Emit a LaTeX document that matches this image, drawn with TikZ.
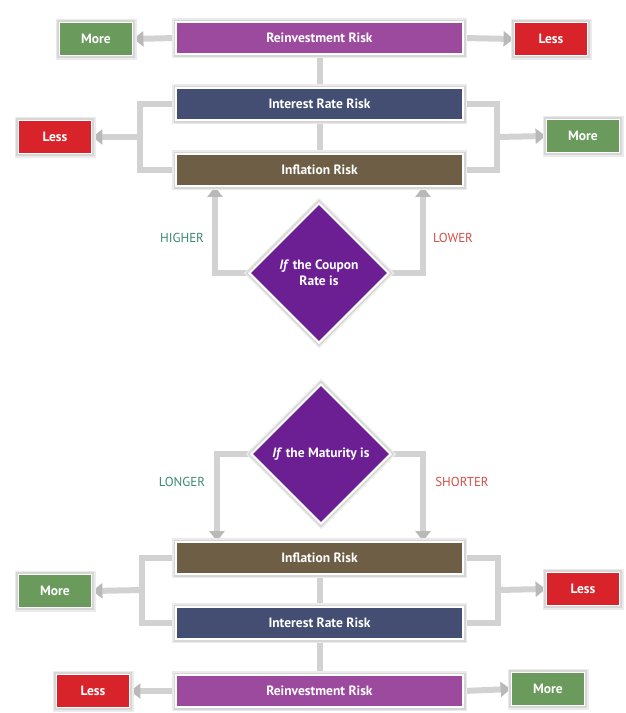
\documentclass[tikz,border=0pt]{standalone}
\usepackage{fontspec}
\setmainfont{PT Sans}
\usetikzlibrary{arrows.meta,shapes.geometric,backgrounds}
\definecolor{reinv}{HTML}{9C4A9E}
\definecolor{intr}{HTML}{434E72}
\definecolor{infl}{HTML}{6E5E45}
\definecolor{grn}{HTML}{6A9A5C}
\definecolor{rd}{HTML}{D8232A}
\definecolor{diam}{HTML}{6B1F93}
\definecolor{hicol}{HTML}{3A8A6B}
\definecolor{locol}{HTML}{D0504A}
\tikzset{
  riskbox/.style={rectangle, minimum width=287pt, minimum height=32pt, inner sep=0pt,
    text=white, font=\bfseries\fontsize{13.5}{15}\selectfont,
    draw=white, line width=1.8pt,
    preaction={draw=black!8, line width=8pt},
    preaction={draw=black!16, line width=5pt}},
  smallbox/.style={riskbox, minimum width=73pt, minimum height=33pt},
  decision/.style={diamond, aspect=1, minimum width=140pt, minimum height=140pt, inner sep=0pt,
    fill=diam, draw=white, line width=2pt,
    preaction={draw=black!8, line width=8pt},
    preaction={draw=black!16, line width=5pt},
    text=white, align=center, font=\bfseries\fontsize{13.5}{16}\selectfont},
  conn/.style={draw=gray!35, line width=6pt},
  arr/.style={conn, -{Triangle[width=15pt,length=10pt,color=gray!55]}},
  lbl/.style={font=\fontsize{13}{15}\selectfont},
}
\begin{document}
\begin{tikzpicture}[x=1pt,y=-1pt]
\useasboundingbox (0,0) rectangle (626,713);
% ---------- top half ----------
\node[riskbox, fill=reinv] (r1) at (319.5,38) {Reinvestment Risk};
\node[riskbox, fill=intr]  (i1) at (319.5,104) {Interest Rate Risk};
\node[riskbox, fill=infl]  (f1) at (319.5,170) {Inflation Risk};
\node[smallbox, fill=grn] (m1) at (96,39) {More};
\node[smallbox, fill=rd]  (l1) at (551,39) {Less};
\node[smallbox, fill=rd]  (l2) at (55,137) {Less};
\node[smallbox, fill=grn] (m2) at (583,136) {More};
\node[decision] (d1) at (319,273) {\textit{If} the Coupon\\Rate is};
\node[lbl, text=hicol] (hi) at (182,238) {HIGHER};
\node[lbl, text=locol] (lo) at (453,238) {LOWER};
\coordinate (bl1) at (140,137);
\coordinate (br1) at (497,137);
\coordinate (ha1) at (215,273);
\coordinate (la1) at (423,273);
% ---------- bottom half ----------
\node[decision] (d2) at (321,454) {\textit{If} the Maturity is};
\node[lbl, text=hicol] (lg) at (182,482) {LONGER};
\node[lbl, text=locol] (sh) at (462,482) {SHORTER};
\node[riskbox, fill=infl]  (f2) at (319.5,558) {Inflation Risk};
\node[riskbox, fill=intr]  (i2) at (319.5,623) {Interest Rate Risk};
\node[riskbox, fill=reinv] (r2) at (319.5,691) {Reinvestment Risk};
\node[smallbox, fill=grn] (m3) at (55,591) {More};
\node[smallbox, fill=rd]  (l3) at (583,589) {Less};
\node[smallbox, fill=rd]  (l4) at (93,691) {Less};
\node[smallbox, fill=grn] (m4) at (548,689) {More};
\coordinate (bl2) at (142,590);
\coordinate (br2) at (498,590);
\coordinate (ha2) at (217,454);
\coordinate (la2) at (423,454);
% ---------- connectors ----------
\begin{scope}[on background layer]
  \draw[conn] (r1) -- (i1);
  \draw[conn] (i1) -- (f1);
  \draw[arr] (r1.west) -- (m1.east);
  \draw[arr] (r1.east) -- (l1.west);
  \draw[conn] (i1.west) -| (bl1) |- (f1.west);
  \draw[arr] (bl1) -- (l2.east);
  \draw[conn] (i1.east) -| (br1) |- (f1.east);
  \draw[arr] (br1) -- (m2.west);
  \draw[arr] (d1.west) -- (ha1) -- (ha1 |- f1.south);
  \draw[arr] (d1.east) -- (la1) -- (la1 |- f1.south);
  \draw[arr] (d2.west) -- (ha2) -- (ha2 |- f2.north);
  \draw[arr] (d2.east) -- (la2) -- (la2 |- f2.north);
  \draw[conn] (f2) -- (i2);
  \draw[conn] (i2) -- (r2);
  \draw[conn] (f2.west) -| (bl2) |- (i2.west);
  \draw[arr] (bl2) -- (m3.east);
  \draw[conn] (f2.east) -| (br2) |- (i2.east);
  \draw[arr] (br2) -- (l3.west);
  \draw[arr] (r2.west) -- (l4.east);
  \draw[arr] (r2.east) -- (m4.west);
\end{scope}
\end{tikzpicture}
\end{document}
